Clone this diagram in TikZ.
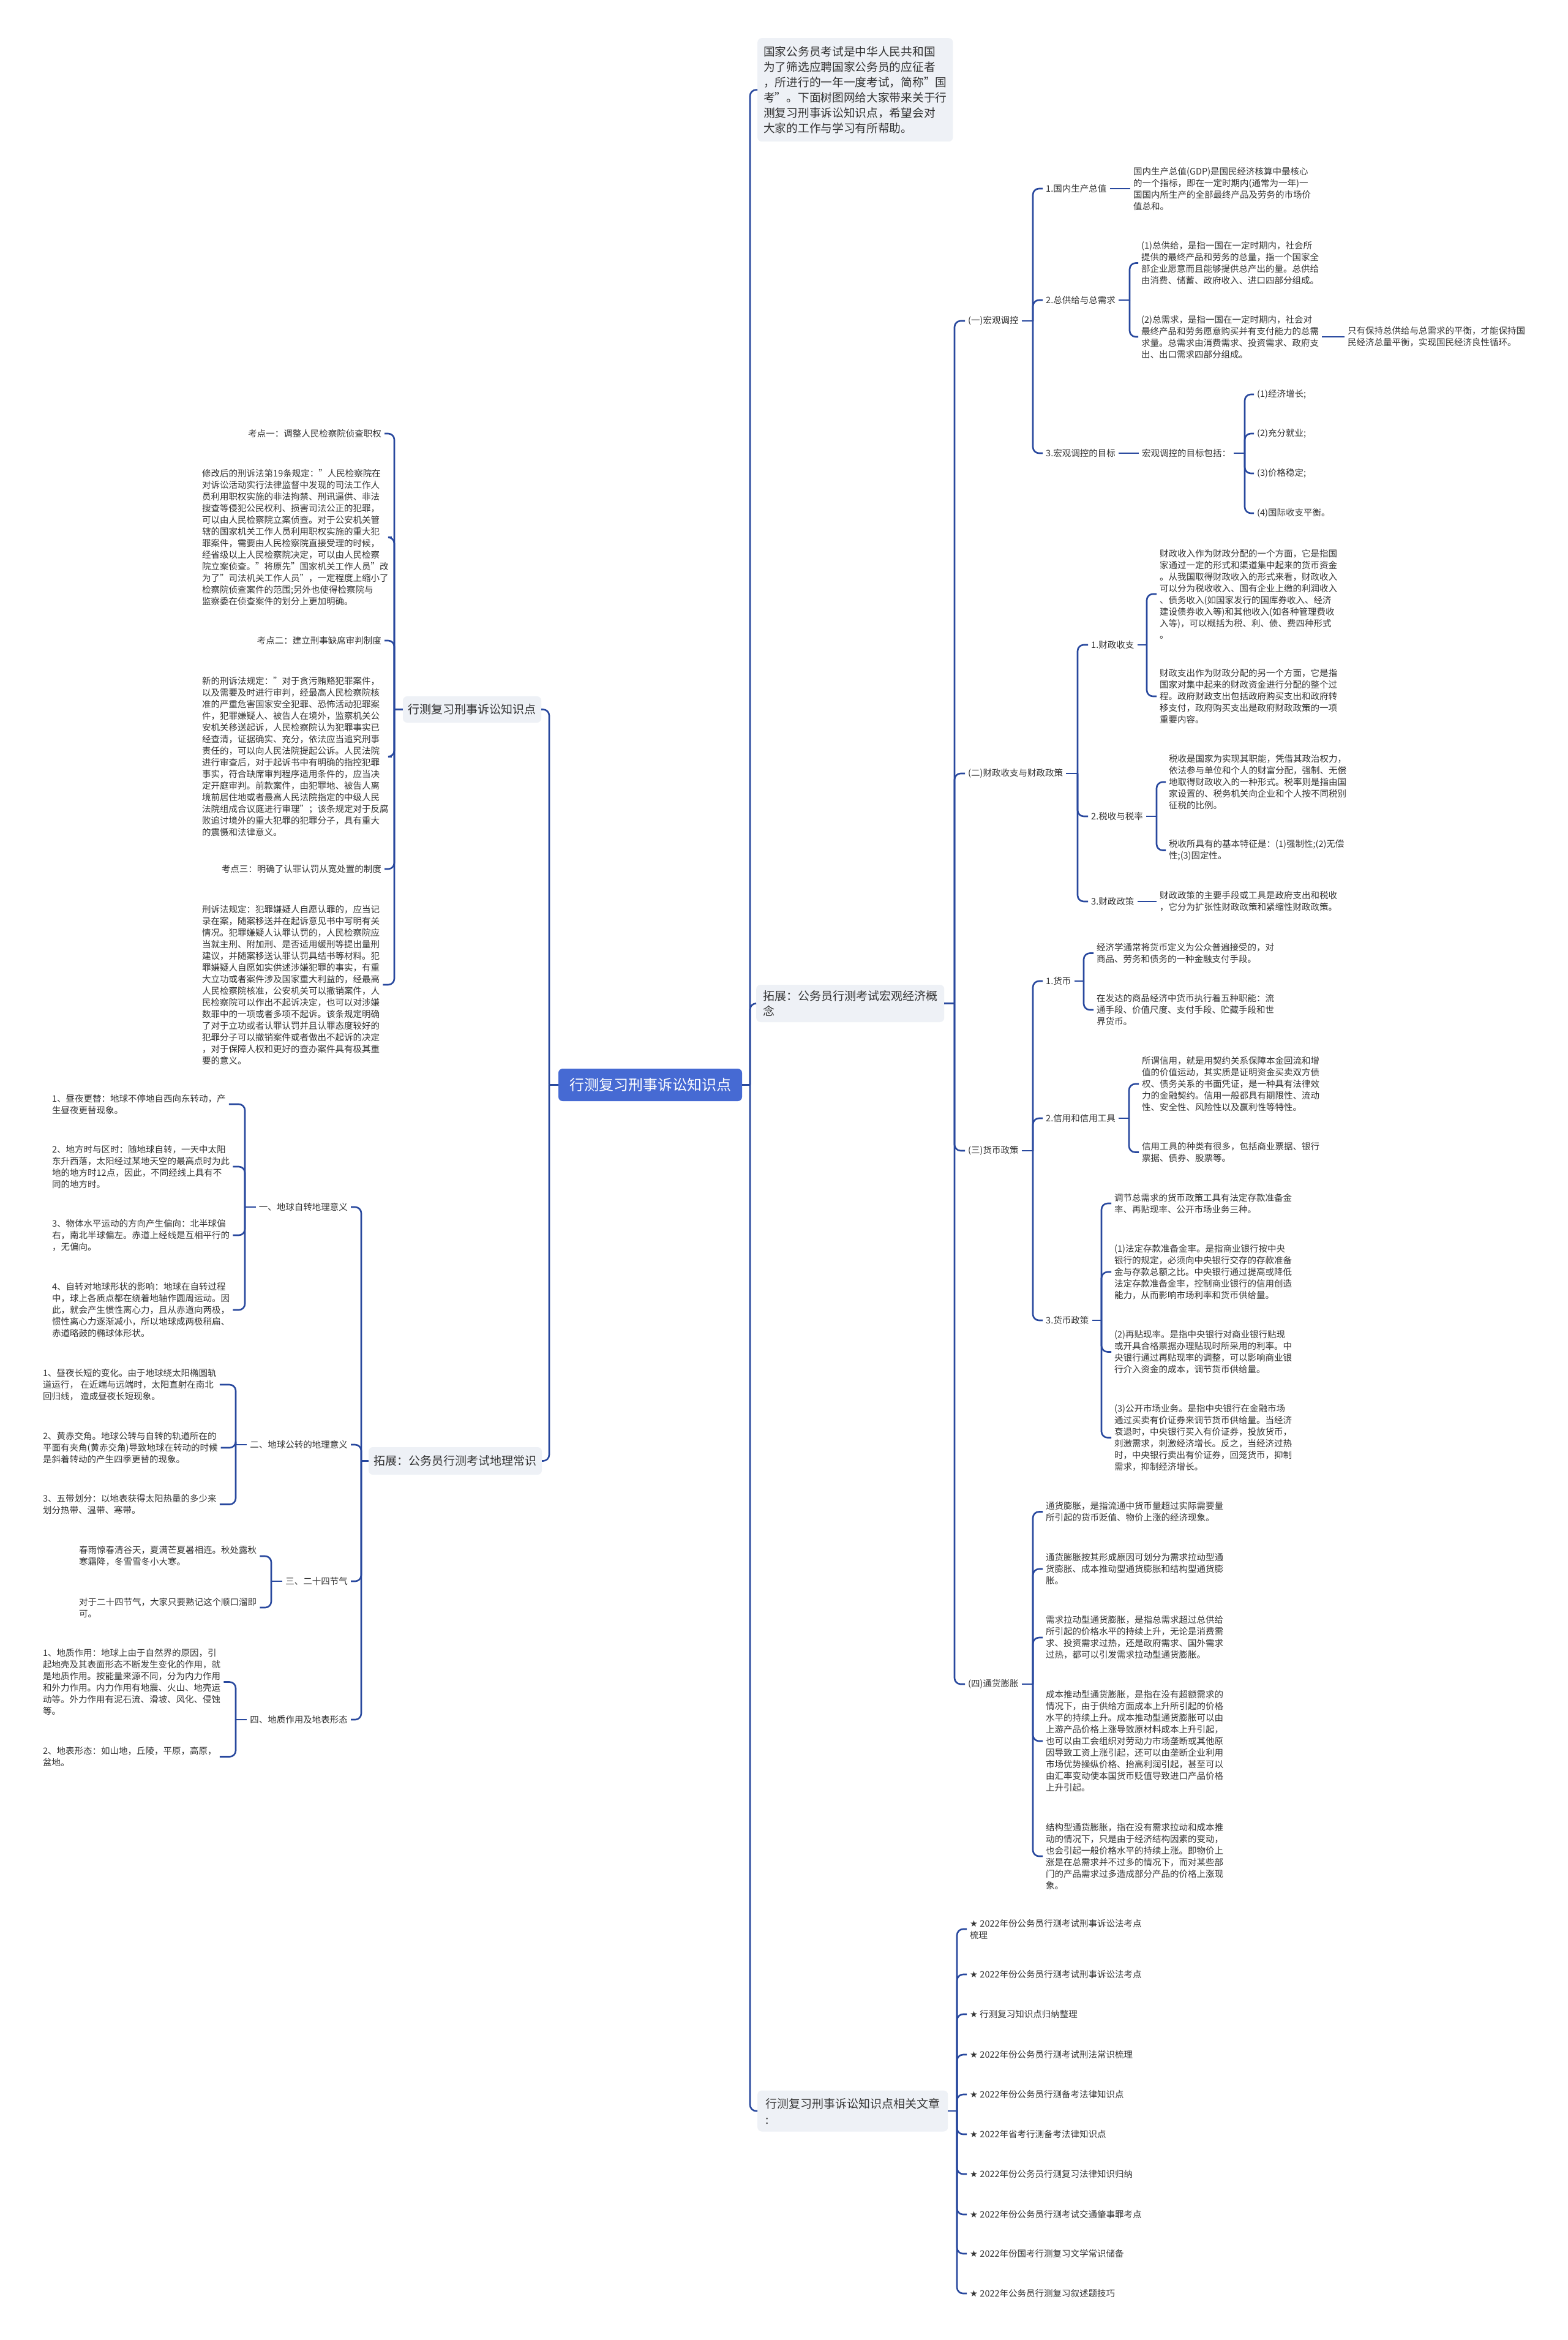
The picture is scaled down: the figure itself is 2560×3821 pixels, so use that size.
\documentclass[tikz,border=0pt]{standalone}
\usepackage{fontspec}
\setmainfont{Noto Sans CJK SC}
\newfontfamily\symf{DejaVu Sans}
\definecolor{lc}{RGB}{40,72,158}
\definecolor{tc}{RGB}{51,51,51}
\definecolor{bf}{RGB}{238,241,246}
\definecolor{rb}{RGB}{70,106,211}
\tikzset{
 ln/.style={draw=lc, line width=2.6pt, rounded corners=10pt},
 tx/.style={font=\fontsize{14.5pt}{19pt}\selectfont, text=tc, align=left, inner xsep=5pt, inner ysep=0pt},
 bx/.style={font=\fontsize{19pt}{25pt}\selectfont, text=tc, align=left, fill=bf, rounded corners=7pt, inner xsep=10pt, inner ysep=5pt},
 rootbx/.style={font=\fontsize{24pt}{28pt}\selectfont, text=white, fill=rb, rounded corners=7pt, minimum width=300pt, minimum height=53pt, inner sep=0pt},
}
\newcommand\st{{\symf ★}}
\begin{document}
\begin{tikzpicture}[x=1pt,y=-1pt]
\fill[white] (0,0) rectangle (2560,3821);
\useasboundingbox (0,0) rectangle (2560,3821);

% ---------- root ----------
\node[rootbx] (root) at (1062,1771.5) {行测复习刑事诉讼知识点};
\coordinate (rt) at (1225,1771.5);
\coordinate (lt) at (897,1771.5);

% ---------- right level 1 ----------
\node[bx, anchor=north west, minimum width=310pt, minimum height=169pt, font=\fontsize{18.7pt}{25pt}\selectfont] (intro) at (1237,62) {国家公务员考试是中华人民共和国\\为了筛选应聘国家公务员的应征者\\，所进行的一年一度考试，简称"国\\考"。下面树图网给大家带来关于行\\测复习刑事诉讼知识点，希望会对\\大家的工作与学习有所帮助。};
\node[bx, anchor=west, minimum width=307pt, minimum height=61pt] (macro) at (1235,1638.5) {拓展：公务员行测考试宏观经济概\\念};
\node[bx, anchor=west, minimum width=311pt, minimum height=67pt, font=\fontsize{19pt}{26pt}\selectfont] (art) at (1237,3447) {行测复习刑事诉讼知识点相关文章\\:};

\draw[ln] (root.east) -- (rt);
\draw[ln] (rt) |- (intro.west);
\draw[ln] (rt) |- (macro.west);
\draw[ln] (rt) |- (art.west);

% ---------- macro economics ----------
\coordinate (mt) at (1559,1638.5);
\node[tx, anchor=west] (c1) at (1576,524) {(一)宏观调控};
\node[tx, anchor=west] (c2) at (1576,1263) {(二)财政收支与财政政策};
\node[tx, anchor=west] (c3) at (1576,1879) {(三)货币政策};
\node[tx, anchor=west] (c4) at (1576,2750) {(四)通货膨胀};
\draw[ln] (macro.east) -- (mt);
\foreach \n in {c1,c2,c3,c4} \draw[ln] (mt) |- (\n.west);

% (一)
\coordinate (t1) at (1687,524);
\node[tx, anchor=west] (d11) at (1703,308) {1.国内生产总值};
\node[tx, anchor=west] (d12) at (1703,490) {2.总供给与总需求};
\node[tx, anchor=west] (d13) at (1703,740) {3.宏观调控的目标};
\draw[ln] (c1.east) -- (t1);
\foreach \n in {d11,d12,d13} \draw[ln] (t1) |- (\n.west);

\node[tx, anchor=west] (gdp) at (1846,308) {国内生产总值(GDP)是国民经济核算中最核心\\的一个指标，即在一定时期内(通常为一年)一\\国国内所生产的全部最终产品及劳务的市场价\\值总和。};
\draw[ln] (d11.east) -- (d11.east -| gdp.west);

\coordinate (t12) at (1845,490);
\node[tx, anchor=west] (s1) at (1859,429.5) {(1)总供给，是指一国在一定时期内，社会所\\提供的最终产品和劳务的总量，指一个国家全\\部企业愿意而且能够提供总产出的量。总供给\\由消费、储蓄、政府收入、进口四部分组成。};
\node[tx, anchor=west] (s2) at (1859,550) {(2)总需求，是指一国在一定时期内，社会对\\最终产品和劳务愿意购买并有支付能力的总需\\求量。总需求由消费需求、投资需求、政府支\\出、出口需求四部分组成。};
\draw[ln] (d12.east) -- (t12);
\foreach \n in {s1,s2} \draw[ln] (t12) |- (\n.west);
\node[tx, anchor=west] (bal) at (2196,550) {只有保持总供给与总需求的平衡，才能保持国\\民经济总量平衡，实现国民经济良性循环。};
\draw[ln] (s2.east) -- (s2.east -| bal.west);

\node[tx, anchor=west] (goal) at (1860,740) {宏观调控的目标包括：};
\draw[ln] (d13.east) -- (d13.east -| goal.west);
\coordinate (t13) at (2033,740);
\node[tx, anchor=west] (g1) at (2048,644) {(1)经济增长;};
\node[tx, anchor=west] (g2) at (2048,708) {(2)充分就业;};
\node[tx, anchor=west] (g3) at (2048,773) {(3)价格稳定;};
\node[tx, anchor=west] (g4) at (2048,838) {(4)国际收支平衡。};
\draw[ln] (goal.east) -- (t13);
\foreach \n in {g1,g2,g3,g4} \draw[ln] (t13) |- (\n.west);

% (二)
\coordinate (t2) at (1760,1263);
\node[tx, anchor=west] (e1) at (1777,1053) {1.财政收支};
\node[tx, anchor=west] (e2) at (1777,1333) {2.税收与税率};
\node[tx, anchor=west] (e3) at (1777,1472) {3.财政政策};
\draw[ln] (c2.east) -- (t2);
\foreach \n in {e1,e2,e3} \draw[ln] (t2) |- (\n.west);

\coordinate (te1) at (1873,1053);
\node[tx, anchor=west] (f1) at (1889,970) {财政收入作为财政分配的一个方面，它是指国\\家通过一定的形式和渠道集中起来的货币资金\\。从我国取得财政收入的形式来看，财政收入\\可以分为税收收入、国有企业上缴的利润收入\\、债务收入(如国家发行的国库券收入、经济\\建设债券收入等)和其他收入(如各种管理费收\\入等)，可以概括为税、利、债、费四种形式\\。};
\node[tx, anchor=west] (f2) at (1889,1137) {财政支出作为财政分配的另一个方面，它是指\\国家对集中起来的财政资金进行分配的整个过\\程。政府财政支出包括政府购买支出和政府转\\移支付，政府购买支出是政府财政政策的一项\\重要内容。};
\draw[ln] (e1.east) -- (te1);
\foreach \n in {f1,f2} \draw[ln] (te1) |- (\n.west);

\coordinate (te2) at (1889,1333);
\node[tx, anchor=west] (f3) at (1904,1277) {税收是国家为实现其职能，凭借其政治权力，\\依法参与单位和个人的财富分配，强制、无偿\\地取得财政收入的一种形式。税率则是指由国\\家设置的、税务机关向企业和个人按不同税别\\征税的比例。};
\node[tx, anchor=west] (f4) at (1904,1388.5) {税收所具有的基本特征是：(1)强制性;(2)无偿\\性;(3)固定性。};
\draw[ln] (e2.east) -- (te2);
\foreach \n in {f3,f4} \draw[ln] (te2) |- (\n.west);

\node[tx, anchor=west] (f5) at (1889,1472) {财政政策的主要手段或工具是政府支出和税收\\，它分为扩张性财政政策和紧缩性财政政策。};
\draw[ln] (e3.east) -- (e3.east -| f5.west);

% (三)
\coordinate (t3) at (1687,1879);
\node[tx, anchor=west] (h1) at (1703,1602) {1.货币};
\node[tx, anchor=west] (h2) at (1703,1826) {2.信用和信用工具};
\node[tx, anchor=west] (h3) at (1703,2156) {3.货币政策};
\draw[ln] (c3.east) -- (t3);
\foreach \n in {h1,h2,h3} \draw[ln] (t3) |- (\n.west);

\coordinate (th1) at (1770,1602);
\node[tx, anchor=west] (i1) at (1786,1556.5) {经济学通常将货币定义为公众普遍接受的，对\\商品、劳务和债务的一种金融支付手段。};
\node[tx, anchor=west] (i2) at (1786,1649) {在发达的商品经济中货币执行着五种职能：流\\通手段、价值尺度、支付手段、贮藏手段和世\\界货币。};
\draw[ln] (h1.east) -- (th1);
\foreach \n in {i1,i2} \draw[ln] (th1) |- (\n.west);

\coordinate (th2) at (1844,1826);
\node[tx, anchor=west] (i3) at (1860,1770) {所谓信用，就是用契约关系保障本金回流和增\\值的价值运动，其实质是证明资金买卖双方债\\权、债务关系的书面凭证，是一种具有法律效\\力的金融契约。信用一般都具有期限性、流动\\性、安全性、风险性以及赢利性等特性。};
\node[tx, anchor=west] (i4) at (1860,1881.5) {信用工具的种类有很多，包括商业票据、银行\\票据、债券、股票等。};
\draw[ln] (h2.east) -- (th2);
\foreach \n in {i3,i4} \draw[ln] (th2) |- (\n.west);

\coordinate (th3) at (1799,2156);
\node[tx, anchor=west] (i5) at (1815,1965) {调节总需求的货币政策工具有法定存款准备金\\率、再贴现率、公开市场业务三种。};
\node[tx, anchor=west] (i6) at (1815,2077) {(1)法定存款准备金率。是指商业银行按中央\\银行的规定，必须向中央银行交存的存款准备\\金与存款总额之比。中央银行通过提高或降低\\法定存款准备金率，控制商业银行的信用创造\\能力，从而影响市场利率和货币供给量。};
\node[tx, anchor=west] (i7) at (1815,2207.5) {(2)再贴现率。是指中央银行对商业银行贴现\\或开具合格票据办理贴现时所采用的利率。中\\央银行通过再贴现率的调整，可以影响商业银\\行介入资金的成本，调节货币供给量。};
\node[tx, anchor=west] (i8) at (1815,2347.5) {(3)公开市场业务。是指中央银行在金融市场\\通过买卖有价证券来调节货币供给量。当经济\\衰退时，中央银行买入有价证券，投放货币，\\刺激需求，刺激经济增长。反之，当经济过热\\时，中央银行卖出有价证券，回笼货币，抑制\\需求，抑制经济增长。};
\draw[ln] (h3.east) -- (th3);
\foreach \n in {i5,i6,i7,i8} \draw[ln] (th3) |- (\n.west);

% (四)
\coordinate (t4) at (1687,2750);
\node[tx, anchor=west] (j1) at (1703,2468.5) {通货膨胀，是指流通中货币量超过实际需要量\\所引起的货币贬值、物价上涨的经济现象。};
\node[tx, anchor=west] (j2) at (1703,2562) {通货膨胀按其形成原因可划分为需求拉动型通\\货膨胀、成本推动型通货膨胀和结构型通货膨\\胀。};
\node[tx, anchor=west] (j3) at (1703,2674) {需求拉动型通货膨胀，是指总需求超过总供给\\所引起的价格水平的持续上升，无论是消费需\\求、投资需求过热，还是政府需求、国外需求\\过热，都可以引发需求拉动型通货膨胀。};
\node[tx, anchor=west] (j4) at (1703,2843) {成本推动型通货膨胀，是指在没有超额需求的\\情况下，由于供给方面成本上升所引起的价格\\水平的持续上升。成本推动型通货膨胀可以由\\上游产品价格上涨导致原材料成本上升引起，\\也可以由工会组织对劳动力市场垄断或其他原\\因导致工资上涨引起，还可以由垄断企业利用\\市场优势操纵价格、抬高利润引起，甚至可以\\由汇率变动使本国货币贬值导致进口产品价格\\上升引起。};
\node[tx, anchor=west] (j5) at (1703,3031) {结构型通货膨胀，指在没有需求拉动和成本推\\动的情况下，只是由于经济结构因素的变动，\\也会引起一般价格水平的持续上涨。即物价上\\涨是在总需求并不过多的情况下，而对某些部\\门的产品需求过多造成部分产品的价格上涨现\\象。};
\draw[ln] (c4.east) -- (t4);
\foreach \n in {j1,j2,j3,j4,j5} \draw[ln] (t4) |- (\n.west);

% ---------- articles ----------
\coordinate (ta) at (1563,3447);
\node[tx, anchor=west] (k1) at (1579,3150) {\st{} 2022年份公务员行测考试刑事诉讼法考点\\梳理};
\node[tx, anchor=west] (k2) at (1579,3224) {\st{} 2022年份公务员行测考试刑事诉讼法考点};
\node[tx, anchor=west] (k3) at (1579,3289) {\st{} 行测复习知识点归纳整理};
\node[tx, anchor=west] (k4) at (1579,3355) {\st{} 2022年份公务员行测考试刑法常识梳理};
\node[tx, anchor=west] (k5) at (1579,3420) {\st{} 2022年份公务员行测备考法律知识点};
\node[tx, anchor=west] (k6) at (1579,3485) {\st{} 2022年省考行测备考法律知识点};
\node[tx, anchor=west] (k7) at (1579,3550) {\st{} 2022年份公务员行测复习法律知识归纳};
\node[tx, anchor=west] (k8) at (1579,3616) {\st{} 2022年份公务员行测考试交通肇事罪考点};
\node[tx, anchor=west] (k9) at (1579,3680) {\st{} 2022年份国考行测复习文学常识储备};
\node[tx, anchor=west] (k10) at (1579,3745) {\st{} 2022年公务员行测复习叙述题技巧};
\draw[ln] (art.east) -- (ta);
\foreach \n in {k1,k2,k3,k4,k5,k6,k7,k8,k9,k10} \draw[ln] (ta) |- (\n.west);

% ---------- left side ----------
\node[bx, minimum width=226pt, minimum height=43pt, inner sep=0pt] (L1) at (771,1158.5) {行测复习刑事诉讼知识点};
\node[bx, minimum width=283pt, minimum height=45pt, inner sep=0pt] (L2) at (743.5,2385.5) {拓展：公务员行测考试地理常识};
\draw[ln] (root.west) -- (lt);
\draw[ln] (lt) |- (L1.east);
\draw[ln] (lt) |- (L2.east);

% law
\coordinate (tl1) at (644,1158.5);
\node[tx, anchor=east] (m1) at (628,708) {考点一：调整人民检察院侦查职权};
\node[tx, anchor=west] (m2) at (325,877.5) {修改后的刑诉法第19条规定："人民检察院在\\对诉讼活动实行法律监督中发现的司法工作人\\员利用职权实施的非法拘禁、刑讯逼供、非法\\搜查等侵犯公民权利、损害司法公正的犯罪，\\可以由人民检察院立案侦查。对于公安机关管\\辖的国家机关工作人员利用职权实施的重大犯\\罪案件，需要由人民检察院直接受理的时候，\\经省级以上人民检察院决定，可以由人民检察\\院立案侦查。"将原先"国家机关工作人员"改\\为了"司法机关工作人员"，一定程度上缩小了\\检察院侦查案件的范围;另外也使得检察院与\\监察委在侦查案件的划分上更加明确。};
\node[tx, anchor=east] (m3) at (628,1046) {考点二：建立刑事缺席审判制度};
\node[tx, anchor=west] (m4) at (325,1235.5) {新的刑诉法规定："对于贪污贿赂犯罪案件，\\以及需要及时进行审判，经最高人民检察院核\\准的严重危害国家安全犯罪、恐怖活动犯罪案\\件，犯罪嫌疑人、被告人在境外，监察机关公\\安机关移送起诉，人民检察院认为犯罪事实已\\经查清，证据确实、充分，依法应当追究刑事\\责任的，可以向人民法院提起公诉。人民法院\\进行审查后，对于起诉书中有明确的指控犯罪\\事实，符合缺席审判程序适用条件的，应当决\\定开庭审判。前款案件，由犯罪地、被告人离\\境前居住地或者最高人民法院指定的中级人民\\法院组成合议庭进行审理"；该条规定对于反腐\\败追讨境外的重大犯罪的犯罪分子，具有重大\\的震慑和法律意义。};
\node[tx, anchor=east] (m5) at (628,1419) {考点三：明确了认罪认罚从宽处置的制度};
\node[tx, anchor=west] (m6) at (325,1608) {刑诉法规定：犯罪嫌疑人自愿认罪的，应当记\\录在案，随案移送并在起诉意见书中写明有关\\情况。犯罪嫌疑人认罪认罚的，人民检察院应\\当就主刑、附加刑、是否适用缓刑等提出量刑\\建议，并随案移送认罪认罚具结书等材料。犯\\罪嫌疑人自愿如实供述涉嫌犯罪的事实，有重\\大立功或者案件涉及国家重大利益的，经最高\\人民检察院核准，公安机关可以撤销案件，人\\民检察院可以作出不起诉决定，也可以对涉嫌\\数罪中的一项或者多项不起诉。该条规定明确\\了对于立功或者认罪认罚并且认罪态度较好的\\犯罪分子可以撤销案件或者做出不起诉的决定\\，对于保障人权和更好的查办案件具有极其重\\要的意义。};
\draw[ln] (L1.west) -- (tl1);
\foreach \n in {m1,m2,m3,m4,m5,m6} \draw[ln] (tl1) |- (\n.east);

% geography
\coordinate (tl2) at (590,2385.5);
\node[tx, anchor=east] (n1) at (573,1971) {一、地球自转地理意义};
\node[tx, anchor=east] (n2) at (573,2359) {二、地球公转的地理意义};
\node[tx, anchor=east] (n3) at (573,2582) {三、二十四节气};
\node[tx, anchor=east] (n4) at (573,2808) {四、地质作用及地表形态};
\draw[ln] (L2.west) -- (tl2);
\foreach \n in {n1,n2,n3,n4} \draw[ln] (tl2) |- (\n.east);

\coordinate (tn1) at (400,1971);
\node[tx, anchor=west] (o1) at (80,1803) {1、昼夜更替：地球不停地自西向东转动，产\\生昼夜更替现象。};
\node[tx, anchor=west] (o2) at (80,1905) {2、地方时与区时：随地球自转，一天中太阳\\东升西落，太阳经过某地天空的最高点时为此\\地的地方时12点，因此，不同经线上具有不\\同的地方时。};
\node[tx, anchor=west] (o3) at (80,2017) {3、物体水平运动的方向产生偏向：北半球偏\\右，南北半球偏左。赤道上经线是互相平行的\\，无偏向。};
\node[tx, anchor=west] (o4) at (80,2139) {4、自转对地球形状的影响：地球在自转过程\\中，球上各质点都在绕着地轴作圆周运动。因\\此，就会产生惯性离心力，且从赤道向两极，\\惯性离心力逐渐减小，所以地球成两极稍扁、\\赤道略鼓的椭球体形状。};
\draw[ln] (n1.west) -- (tn1);
\foreach \n in {o1,o2,o3,o4} \draw[ln] (tn1) |- (\n.east);

\coordinate (tn2) at (385,2359);
\node[tx, anchor=west] (p1) at (65,2261) {1、昼夜长短的变化。由于地球绕太阳椭圆轨\\道运行， 在近端与远端时，太阳直射在南北\\回归线， 造成昼夜长短现象。};
\node[tx, anchor=west] (p2) at (65,2364) {2、黄赤交角。地球公转与自转的轨道所在的\\平面有夹角(黄赤交角)导致地球在转动的时候\\是斜着转动的产生四季更替的现象。};
\node[tx, anchor=west] (p3) at (65,2456.5) {3、五带划分：以地表获得太阳热量的多少来\\划分热带、温带、寒带。};
\draw[ln] (n2.west) -- (tn2);
\foreach \n in {p1,p2,p3} \draw[ln] (tn2) |- (\n.east);

\coordinate (tn3) at (443,2582);
\node[tx, anchor=west] (q1) at (124,2541) {春雨惊春清谷天，夏满芒夏暑相连。秋处露秋\\寒霜降，冬雪雪冬小大寒。};
\node[tx, anchor=west] (q2) at (124,2625) {对于二十四节气，大家只要熟记这个顺口溜即\\可。};
\draw[ln] (n3.west) -- (tn3);
\foreach \n in {q1,q2} \draw[ln] (tn3) |- (\n.east);

\coordinate (tn4) at (385,2808);
\node[tx, anchor=west] (r1) at (65,2746.5) {1、地质作用：地球上由于自然界的原因，引\\起地壳及其表面形态不断发生变化的作用，就\\是地质作用。按能量来源不同，分为内力作用\\和外力作用。内力作用有地震、火山、地壳运\\动等。外力作用有泥石流、滑坡、风化、侵蚀\\等。};
\node[tx, anchor=west] (r2) at (65,2868.5) {2、地表形态：如山地，丘陵，平原，高原，\\盆地。};
\draw[ln] (n4.west) -- (tn4);
\foreach \n in {r1,r2} \draw[ln] (tn4) |- (\n.east);
\end{tikzpicture}
\end{document}
